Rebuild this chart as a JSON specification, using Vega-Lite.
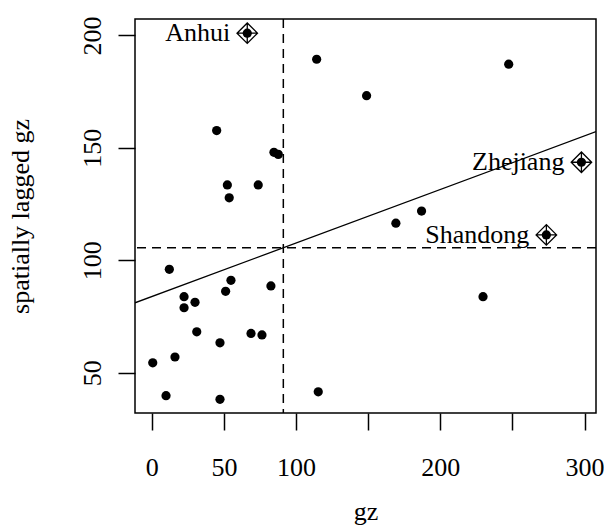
{
  "$schema": "https://vega.github.io/schema/vega-lite/v6.json",
  "autosize": "none",
  "width": 461,
  "height": 394,
  "padding": {"left": 135, "top": 19, "right": 8, "bottom": 114},
  "background": "white",
  "config": {
    "view": {"stroke": "black", "strokeWidth": 1.5},
    "font": "Liberation Serif",
    "axis": {
      "labelFont": "Liberation Serif",
      "titleFont": "Liberation Serif",
      "labelFontSize": 26,
      "titleFontSize": 26,
      "titleFontWeight": "normal",
      "labelColor": "black",
      "titleColor": "black",
      "tickColor": "black",
      "tickSize": 17,
      "tickWidth": 1.5,
      "domain": false,
      "grid": false
    }
  },
  "datasets": {
    "pts": [
      {"gz": 66.2, "lag": 201.0, "name": "Anhui", "influential": true},
      {"gz": 114.3, "lag": 189.4, "name": "", "influential": false},
      {"gz": 148.9, "lag": 173.2, "name": "", "influential": false},
      {"gz": 45.0, "lag": 157.7, "name": "", "influential": false},
      {"gz": 84.7, "lag": 148.0, "name": "", "influential": false},
      {"gz": 87.7, "lag": 147.1, "name": "", "influential": false},
      {"gz": 52.4, "lag": 133.5, "name": "", "influential": false},
      {"gz": 73.8, "lag": 133.5, "name": "", "influential": false},
      {"gz": 53.7, "lag": 127.8, "name": "", "influential": false},
      {"gz": 247.4, "lag": 187.2, "name": "", "influential": false},
      {"gz": 297.8, "lag": 143.6, "name": "Zhejiang", "influential": true},
      {"gz": 187.0, "lag": 121.9, "name": "", "influential": false},
      {"gz": 169.2, "lag": 116.5, "name": "", "influential": false},
      {"gz": 273.5, "lag": 111.3, "name": "Shandong", "influential": true},
      {"gz": 12.2, "lag": 96.0, "name": "", "influential": false},
      {"gz": 54.9, "lag": 91.1, "name": "", "influential": false},
      {"gz": 51.2, "lag": 86.2, "name": "", "influential": false},
      {"gz": 82.6, "lag": 88.6, "name": "", "influential": false},
      {"gz": 22.4, "lag": 83.8, "name": "", "influential": false},
      {"gz": 22.4, "lag": 78.9, "name": "", "influential": false},
      {"gz": 30.0, "lag": 81.3, "name": "", "influential": false},
      {"gz": 31.2, "lag": 68.2, "name": "", "influential": false},
      {"gz": 68.8, "lag": 67.5, "name": "", "influential": false},
      {"gz": 76.4, "lag": 66.8, "name": "", "influential": false},
      {"gz": 47.3, "lag": 63.3, "name": "", "influential": false},
      {"gz": 16.1, "lag": 57.0, "name": "", "influential": false},
      {"gz": 0.7, "lag": 54.4, "name": "", "influential": false},
      {"gz": 9.9, "lag": 39.8, "name": "", "influential": false},
      {"gz": 47.3, "lag": 38.2, "name": "", "influential": false},
      {"gz": 115.4, "lag": 41.5, "name": "", "influential": false},
      {"gz": 229.6, "lag": 83.8, "name": "", "influential": false}
    ],
    "fit": [
      {"gz": -11.6, "lag": 81.1},
      {"gz": 307.9, "lag": 157.2}
    ],
    "means": [
      {"mx": 91.2, "my": 105.6}
    ]
  },
  "layer": [
    {
      "data": {"name": "means"},
      "mark": {"type": "rule", "strokeDash": [9, 6], "strokeWidth": 1.5, "color": "black"},
      "encoding": {
        "x": {"field": "mx", "type": "quantitative", "scale": {"domain": [-11.6, 307.9], "nice": false, "zero": false},
          "axis": {"values": [0, 50, 100, 150, 200, 250, 300], "labelExpr": "(datum.value == 150 || datum.value == 250) ? '' : datum.label", "title": "gz", "titleX": 230.5, "titleY": 106, "titleBaseline": "alphabetic", "labelPadding": 24, "format": "d"}}
      }
    },
    {
      "data": {"name": "means"},
      "mark": {"type": "rule", "strokeDash": [9, 6], "strokeWidth": 1.5, "color": "black"},
      "encoding": {
        "y": {"field": "my", "type": "quantitative", "scale": {"domain": [32.1, 207.3], "nice": false, "zero": false},
          "axis": {"values": [50, 100, 150, 200], "title": "spatially lagged gz", "labelAngle": -90, "labelAlign": "center", "labelBaseline": "alphabetic", "labelPadding": 18, "titleX": -107, "titleY": 197, "titleAngle": -90, "titleAlign": "center", "titleBaseline": "alphabetic", "format": "d"}}
      }
    },
    {
      "data": {"name": "fit"},
      "mark": {"type": "line", "color": "black", "strokeWidth": 1.3, "clip": true},
      "encoding": {
        "x": {"field": "gz", "type": "quantitative"},
        "y": {"field": "lag", "type": "quantitative"}
      }
    },
    {
      "data": {"name": "pts"},
      "mark": {"type": "point", "shape": "circle", "filled": true, "color": "black", "size": 85, "opacity": 1},
      "encoding": {
        "x": {"field": "gz", "type": "quantitative"},
        "y": {"field": "lag", "type": "quantitative"}
      }
    },
    {
      "data": {"name": "pts"},
      "transform": [{"filter": "datum.influential"}],
      "mark": {"type": "point", "shape": "M-1,0L0,-1L1,0L0,1ZM-1,0L1,0M0,-1L0,1", "filled": false, "stroke": "black", "strokeWidth": 1.3, "size": 420, "opacity": 1},
      "encoding": {
        "x": {"field": "gz", "type": "quantitative"},
        "y": {"field": "lag", "type": "quantitative"}
      }
    },
    {
      "data": {"name": "pts"},
      "transform": [{"filter": "datum.influential"}],
      "mark": {"type": "text", "font": "Liberation Serif", "fontSize": 26, "align": "right", "baseline": "alphabetic", "dx": -17, "dy": 8, "color": "black"},
      "encoding": {
        "x": {"field": "gz", "type": "quantitative"},
        "y": {"field": "lag", "type": "quantitative"},
        "text": {"field": "name"}
      }
    }
  ]
}
